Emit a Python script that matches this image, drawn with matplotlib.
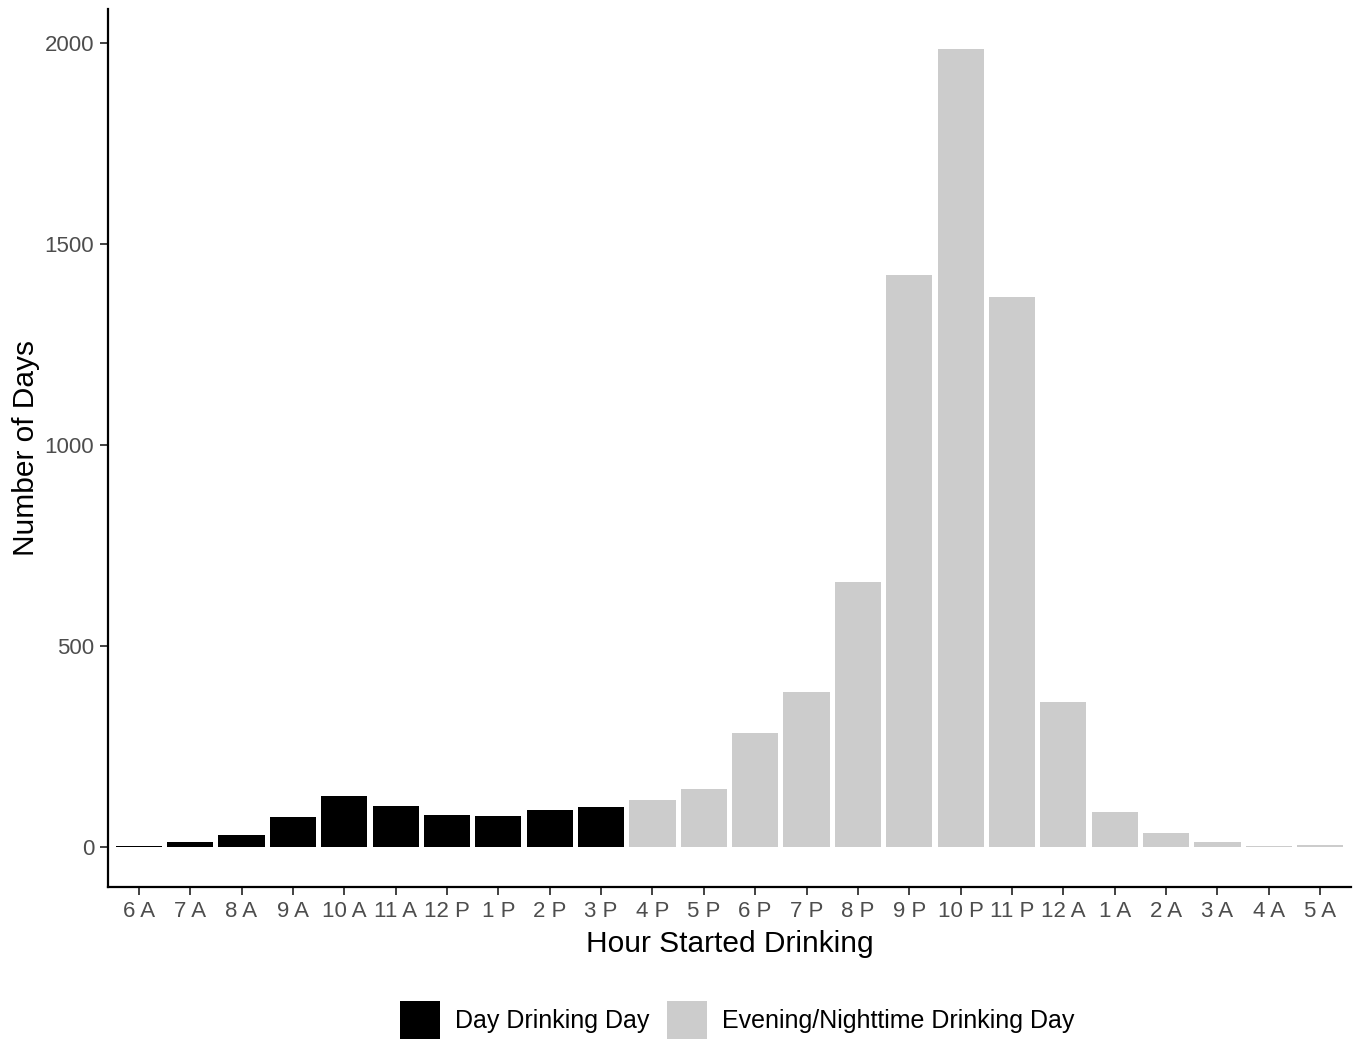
import numpy as np
import matplotlib.pyplot as plt
from matplotlib.patches import Patch

plt.rcParams['font.family'] = ['Liberation Sans', 'DejaVu Sans']

hours = ["6 A", "7 A", "8 A", "9 A", "10 A", "11 A", "12 P", "1 P", "2 P", "3 P",
         "4 P", "5 P", "6 P", "7 P", "8 P", "9 P", "10 P", "11 P", "12 A",
         "1 A", "2 A", "3 A", "4 A", "5 A"]
days = [2, 12, 31, 74, 128, 102, 80, 78, 93, 99,
        116, 145, 284, 385, 659, 1423, 1985, 1368, 361,
        87, 35, 12, 3, 5]
group = ["day"] * 10 + ["evening"] * 14

colors = {"day": "#000000", "evening": "#CCCCCC"}
labels = {"day": "Day Drinking Day", "evening": "Evening/Nighttime Drinking Day"}

fig = plt.figure(figsize=(13.62, 10.42), dpi=100)
ax = fig.add_axes([108 / 1362, 1 - 887 / 1042, (1351 - 108) / 1362, (887 - 9) / 1042])

x = np.arange(len(hours))
ax.bar(x, days, width=0.9, color=[colors[g] for g in group])

ax.set_xlim(-0.6, len(hours) - 0.4)
ax.set_ylim(-0.05 * max(days), 1.05 * max(days))
ax.set_xticks(x)
ax.set_xticklabels(hours)
ax.set_yticks([0, 500, 1000, 1500, 2000])

for s in ["top", "right"]:
    ax.spines[s].set_visible(False)
for s in ["left", "bottom"]:
    ax.spines[s].set_linewidth(1.6)
ax.tick_params(axis="both", length=6, width=1.3, color="#333333",
               labelsize=16, labelcolor="#4D4D4D", pad=4)

ax.set_xlabel("Hour Started Drinking", fontsize=21.5, labelpad=6)
ax.set_ylabel("Number of Days", fontsize=21.5, labelpad=3)

handles = [Patch(facecolor=colors[k], label=labels[k]) for k in ["day", "evening"]]
fig.legend(handles=handles, loc="center", bbox_to_anchor=(0.541, 1 - 1020 / 1042),
           ncol=2, frameon=False, fontsize=18, handlelength=1.6, handleheight=2.0,
           handletextpad=0.6, columnspacing=0.7)

fig.savefig("out.png", dpi=100)
